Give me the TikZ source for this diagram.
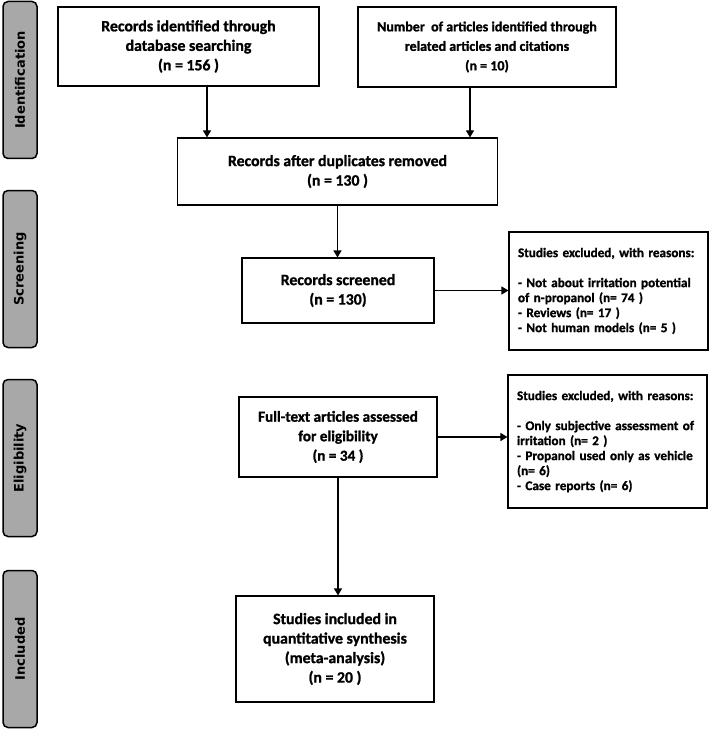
\documentclass[tikz,border=0pt]{standalone}
\usepackage{fontspec}
\setmainfont{Carlito}[BoldFeatures={FakeBold=1.2}]
\newfontfamily\phasefont{DejaVu Sans}
\usetikzlibrary{arrows.meta}
\definecolor{phase}{rgb}{0.66, 0.66, 0.66}
\tikzset{
  stage/.style={draw, line width=1.1pt, align=center, font=\bfseries\fontsize{15.8}{19.5}\selectfont, inner sep=0pt},
  excl/.style={draw, line width=1.1pt, align=left, font=\bfseries\fontsize{13.2}{15}\selectfont, inner xsep=9pt, inner ysep=0pt, text width=181pt},
  phasebox/.style={draw, line width=1.5pt, fill=phase, rounded corners=5pt, rotate=90, minimum width=157pt, minimum height=34pt, font=\phasefont\bfseries\fontsize{13}{15}\selectfont, inner sep=0pt},
  flow/.style={-{Triangle[length=7pt, width=8pt]}, line width=1.1pt}
}

\begin{document}
\begin{tikzpicture}[x=1pt, y=-1pt]
			\useasboundingbox (0,0) rectangle (709,730);

			% Phases on the left
			\node[phasebox] (idf) at (20,80) {Identification};
			\node[phasebox] (scr) at (20,269) {Screening};
			\node[phasebox] (elg) at (20,458) {Eligibility};
			\node[phasebox] (inc) at (20,649) {Included};

			% Boxes of the flow
			\node[stage, minimum width=261pt, minimum height=79pt] (db) at (188.5,46.5) {Records identified through\\ database searching\\ (n = 156 )};
			\node[stage, minimum width=258pt, minimum height=80pt, font=\bfseries\fontsize{14}{19.5}\selectfont] (rel) at (487,47) {Number~~of articles identified through\\ related articles and citations\\ (n = 10)};
			\node[stage, minimum width=320pt, minimum height=67pt] (dup) at (337.5,171.5) {Records after duplicates removed\\ (n = 130 )};
			\node[stage, minimum width=192pt, minimum height=65pt] (scrd) at (338,290.5) {Records screened\\ (n = 130)};
			\node[stage, minimum width=198pt, minimum height=80pt, font=\bfseries\fontsize{15.2}{19.5}\selectfont] (full) at (338,437) {Full-text articles assessed\\ for eligibility\\ (n = 34 )};
			\node[stage, minimum width=198pt, minimum height=106pt] (incl) at (335,649) {Studies included in\\ quantitative synthesis\\ (meta-analysis)\\ (n = 20 )};

			% Excluded records
			\node[excl, minimum height=118pt] (ex1) at (608.5,291) {Studies excluded, with reasons:\\[15pt] - Not about irritation potential\\ of n-propanol (n= 74 )\\ - Reviews (n= 17 )\\ - Not human models (n= 5 )};
			\node[excl, minimum height=133pt] (ex2) at (607.5,441.5) {Studies excluded, with reasons:\\[15pt] - Only subjective assessment of\\ irritation (n= 2 )\\ - Propanol used only as vehicle\\ (n= 6)\\ - Case reports (n= 6)};

			% Draw arrows
			\coordinate (dbout) at ([xshift=18.5pt]db.south);
			\coordinate (relout) at ([xshift=-17pt]rel.south);
			\draw[flow] (dbout) -- (dbout |- dup.north);
			\draw[flow] (relout) -- (relout |- dup.north);
			\draw[flow] (dup.south) -- (dup.south |- scrd.north);
			\draw[flow] (scrd.east) -- (scrd.east -| ex1.west);
			\draw[flow] (full.east) -- (full.east -| ex2.west);
			\draw[flow] (full.south) -- (full.south |- incl.north);
		\end{tikzpicture}
\end{document}
